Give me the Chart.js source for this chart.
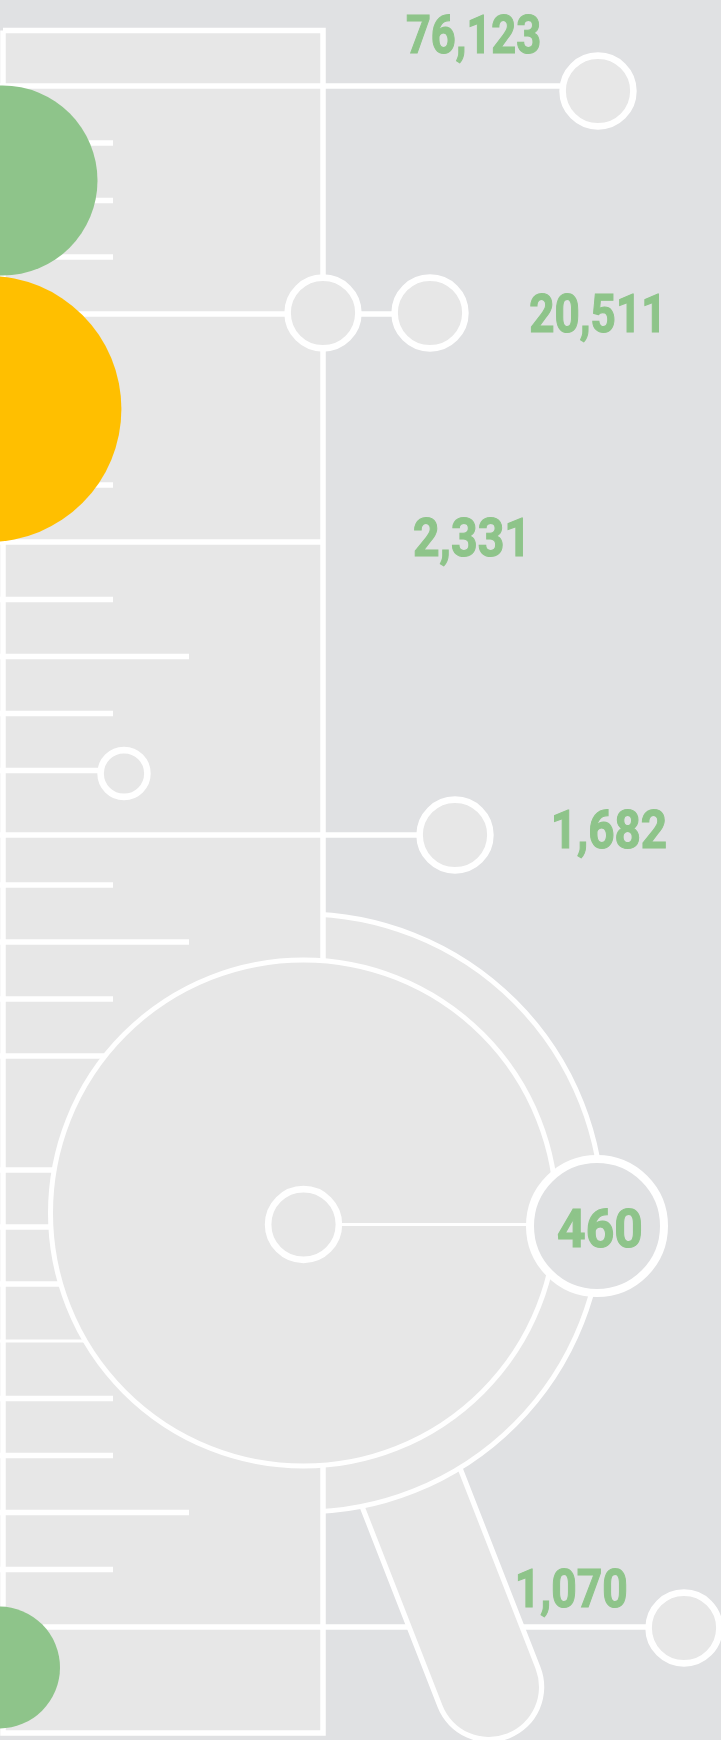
<!DOCTYPE html>
<html><head><meta charset="utf-8">
<style>html,body{margin:0;padding:0;background:#e0e1e3}canvas{display:block}</style>
<script src="https://cdn.jsdelivr.net/npm/chart.js@4"></script></head>
<body><canvas id="c" width="721" height="1740"></canvas>
<script>
// text labels and where they sit on the ruler
const valueLabels = ['76,123','20,511','2,331','1,682','460','1,070'];
const labelLeft   = [406.7, 530, 413.8, 554, 558, 518];
const labelRight  = [539.3, 659, 523, 666, 640.7, 626];
const labelBase   = [53.3, 333, 557, 848.6, 1248, 1608];
// ruler
const shortTicks = [143,200.5,257,485,599.5,713.5,885,999,1056,1170,1227,1284,1398.5,1455.5,1569.5];
const longTicks  = [656.5,942,1512.5];
const thinTicks  = [1341];
const shortEnd = 113, longEnd = 189, thinEnd = 113;
const panelX = [3,323,323,3,3];
const panelY = [30.5,30.5,1733,1733,30.5];
// callout leaders [x from, x to, y]
const leaderFrom = [0,0,0,0,0];
const leaderTo   = [560,430,323,98,455];
const leaderY    = [86,314,542,770.5,835];
// callout circles
const calloutX = [598,323,430,455,684,303.5];
const calloutY = [91,313,313,835,1628,1224.5];
const smallX = [124], smallY = [773.5];
// magnifier
const lensX = [303.5], lensY = [1213];
const handleX = [398,489], handleY = [1454,1687];
const bigBadgeX = [597], bigBadgeY = [1226];
// solid discs
const greenX = [2.5,-1], greenY = [180.5,1667.5], greenR = [95,61];
const amberX = [-11.6], amberY = [409], amberR = [133];

const BG='#e0e1e3', PANEL='#e7e7e7', W='#ffffff', GREEN='#8ec48a', AMBER='#ffbf00';
const pts=(xs,ys)=>xs.map((x,i)=>({x,y:ys[i]}));
const line=(xs,ys,w,extra={})=>({data:pts(xs,ys),showLine:true,pointRadius:0,borderColor:W,borderWidth:w,fill:false,...extra});
const disc=(xs,ys,r,fill,stroke,sw)=>({data:pts(xs,ys),showLine:false,pointRadius:r,backgroundColor:fill,pointBackgroundColor:fill,pointBorderColor:stroke,pointBorderWidth:sw});
const ticks=(ys,end,w)=>ys.map(y=>line([0,end],[y,y],w));

// listed back to front
const layers=[
  line([323,648],[1627,1627],5.5),
  line(handleX,handleY,110.5,{borderCapStyle:'round'}),
  line(handleX,handleY,100,{borderColor:PANEL,borderCapStyle:'round'}),
  disc(lensX,lensY,299,PANEL,W,5),
  {data:pts(panelX,panelY),showLine:true,pointRadius:0,borderWidth:0,borderColor:PANEL,backgroundColor:PANEL,fill:'shape'},
  line(panelX,panelY,5.5,{borderJoinStyle:'miter'}),
  line([0,323],[1627,1627],5.5),
  ...ticks(shortTicks,shortEnd,5.5),
  ...ticks(longTicks,longEnd,5.5),
  ...ticks(thinTicks,thinEnd,3),
  ...leaderY.map((y,i)=>line([leaderFrom[i],leaderTo[i]],[y,y],5.5)),
  disc(lensX,lensY,253,PANEL,W,5),
  line([303.5,597],[1224.5,1224.5],3),
  disc(calloutX,calloutY,35.4,PANEL,W,6.6),
  disc(smallX,smallY,23.4,PANEL,W,6.6),
  disc(bigBadgeX,bigBadgeY,67,BG,W,8),
  disc(greenX,greenY,greenR,GREEN,GREEN,0),
  disc(amberX,amberY,amberR,AMBER,AMBER,0),
];
layers.forEach((d,i)=>{d.order=-i;d.clip=false;});

const textPlugin={id:'valueText',afterDatasetsDraw(chart){
  const {ctx,scales:{x,y}}=chart;
  ctx.save();
  ctx.fillStyle=GREEN;ctx.strokeStyle=GREEN;ctx.lineWidth=1.2;ctx.lineJoin='miter';
  ctx.textBaseline='alphabetic';ctx.textAlign='left';
  ctx.font='700 54.5px Roboto,"Liberation Sans",sans-serif';
  valueLabels.forEach((t,i)=>{
    const l=x.getPixelForValue(labelLeft[i]),r=x.getPixelForValue(labelRight[i]),b=y.getPixelForValue(labelBase[i]);
    const m=ctx.measureText(t);
    const inkW=m.actualBoundingBoxRight+m.actualBoundingBoxLeft;
    ctx.save();ctx.translate(l,b-0.6);ctx.scale((r-l)/inkW,1);
    ctx.fillText(t,m.actualBoundingBoxLeft,0);
    ctx.strokeText(t,m.actualBoundingBoxLeft,0);
    ctx.restore();
  });
  ctx.restore();
}};

new Chart(document.getElementById('c'),{
  type:'scatter',
  data:{datasets:layers},
  options:{
    responsive:false,animation:false,events:[],
    layout:{padding:0,autoPadding:false},
    plugins:{legend:{display:false},tooltip:{enabled:false}},
    scales:{
      x:{type:'linear',min:0,max:721,display:false},
      y:{type:'linear',min:0,max:1740,reverse:true,display:false}
    }
  },
  plugins:[textPlugin]
});
</script></body></html>
